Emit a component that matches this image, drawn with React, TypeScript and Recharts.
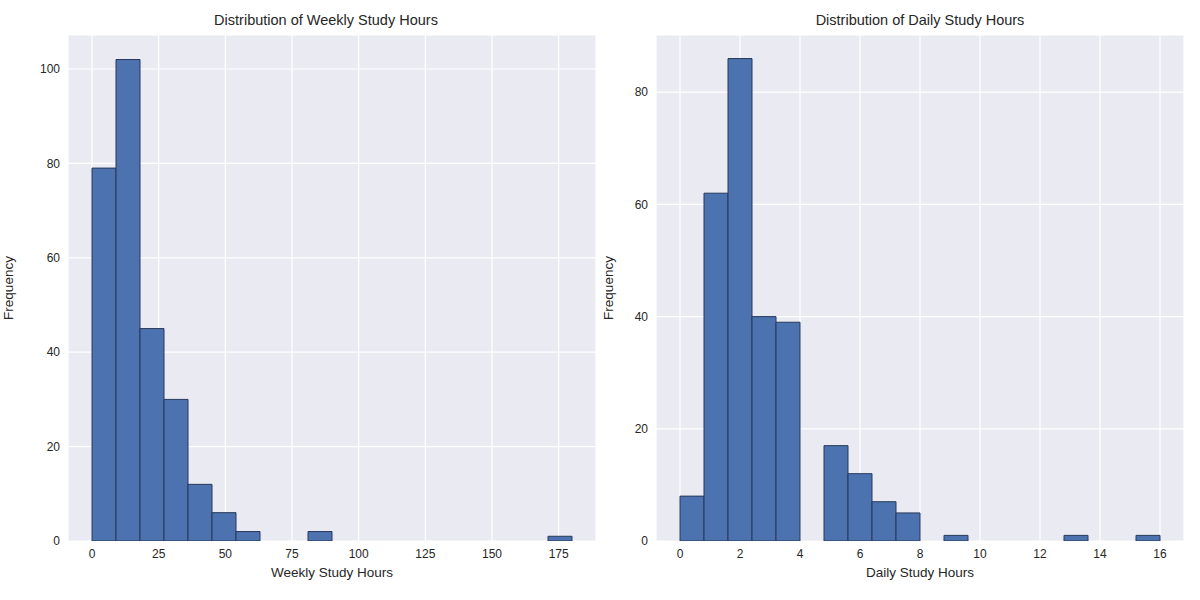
import React from 'react'
import { BarChart, Bar, XAxis, YAxis, CartesianGrid, Label } from 'recharts'

// bin centres and counts
const weeklyBins = [4.5, 13.5, 22.5, 31.5, 40.5, 49.5, 58.5, 67.5, 76.5, 85.5, 94.5, 103.5, 112.5, 121.5, 130.5, 139.5, 148.5, 157.5, 166.5, 175.5]
const weeklyCounts = [79, 102, 45, 30, 12, 6, 2, 0, 0, 2, 0, 0, 0, 0, 0, 0, 0, 0, 0, 1]
const weeklyTicks = [0, 25, 50, 75, 100, 125, 150, 175]
const weeklyYTicks = [0, 20, 40, 60, 80, 100]

const dailyBins = [0.4, 1.2, 2.0, 2.8, 3.6, 4.4, 5.2, 6.0, 6.8, 7.6, 8.4, 9.2, 10.0, 10.8, 11.6, 12.4, 13.2, 14.0, 14.8, 15.6]
const dailyCounts = [8, 62, 86, 40, 39, 0, 17, 12, 7, 5, 0, 1, 0, 0, 0, 0, 1, 0, 0, 1]
const dailyTicks = [0, 2, 4, 6, 8, 10, 12, 14, 16]
const dailyYTicks = [0, 20, 40, 60, 80]

const font = '"Liberation Sans", Arial, sans-serif'
const tickStyle = { fill: '#262626', fontSize: 12, fontFamily: font }

function Hist({ bins, counts, xTicks, yTicks, xDomain, yDomain, xLabel, title, yWidth, left }: any) {
  const data = bins.map((b: number, i: number) => ({ x: b, count: counts[i] }))
  return (
    <div style={{ position: 'absolute', left, top: 0, width: 600, height: 600 }}>
      <div style={{ position: 'absolute', top: 12, left: yWidth, right: 16, textAlign: 'center', fontFamily: font, fontSize: 14.5, color: '#262626' }}>{title}</div>
      <BarChart width={600} height={600} data={data} margin={{ top: 35, right: left ? 16 : 4, bottom: 19, left: 0 }} barCategoryGap={0} barGap={0}>
        <CartesianGrid fill="#EAEAF2" stroke="#ffffff" strokeWidth={1.2} verticalPoints={undefined} />
        <XAxis dataKey="x" type="number" domain={xDomain} ticks={xTicks} allowDataOverflow axisLine={false} tickLine={false} tick={tickStyle} height={40}>
          <Label value={xLabel} position="insideBottom" offset={4} style={{ fill: '#262626', fontSize: 13.5, fontFamily: font }} />
        </XAxis>
        <YAxis type="number" domain={yDomain} ticks={yTicks} allowDataOverflow axisLine={false} tickLine={false} tick={tickStyle} width={yWidth}>
          <Label value="Frequency" angle={-90} position="insideLeft" offset={8} style={{ fill: '#262626', fontSize: 13.5, fontFamily: font, textAnchor: 'middle' }} />
        </YAxis>
        <Bar dataKey="count" fill="#4C72B0" stroke="#27395a" strokeWidth={1} isAnimationActive={false} />
      </BarChart>
    </div>
  )
}

export default function App() {
  return (
    <div style={{ position: 'absolute', left: 0, top: 0, width: 1200, height: 600, background: '#fff' }}>
      <Hist bins={weeklyBins} counts={weeklyCounts} xTicks={weeklyTicks} yTicks={weeklyYTicks} xDomain={[-9, 189]} yDomain={[0, 107.2]} xLabel="Weekly Study Hours" title="Distribution of Weekly Study Hours" yWidth={68} left={0} />
      <Hist bins={dailyBins} counts={dailyCounts} xTicks={dailyTicks} yTicks={dailyYTicks} xDomain={[-0.8, 16.8]} yDomain={[0, 90.2]} xLabel="Daily Study Hours" title="Distribution of Daily Study Hours" yWidth={56} left={600} />
    </div>
  )
}
